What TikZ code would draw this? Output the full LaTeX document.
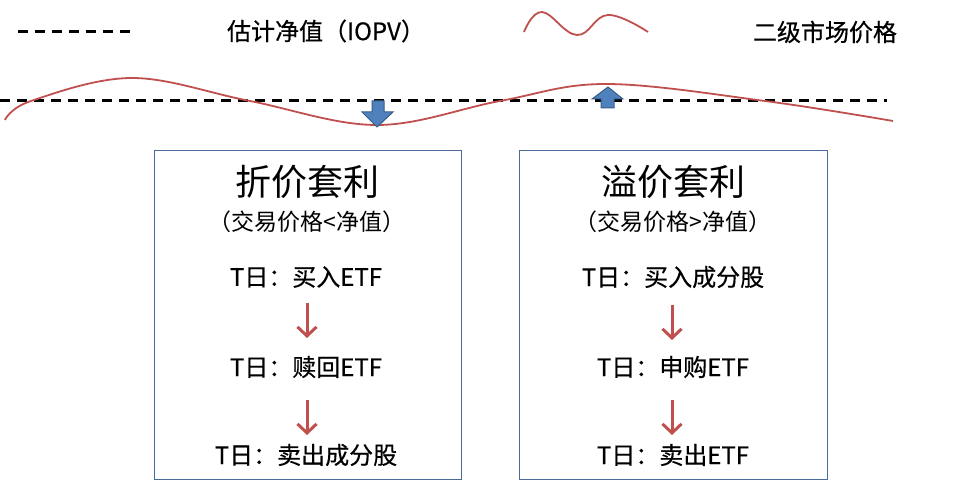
\documentclass[tikz,border=0pt]{standalone}
\usepackage{fontspec}
\setmainfont{Noto Sans CJK SC}
\newfontfamily\medfont{Noto Sans CJK SC}[FakeBold=0.5]
\usetikzlibrary{arrows.meta}
\definecolor{wavered}{HTML}{C0504D}
\definecolor{arrowblue}{HTML}{4F81BD}
\definecolor{arrowedge}{HTML}{385D8A}
\definecolor{boxedge}{HTML}{4A6A9B}
\tikzset{
  legendtext/.style={font=\medfont\fontsize{24}{28}\selectfont, inner sep=0pt, anchor=center},
  titletext/.style={font=\fontsize{36}{40}\selectfont, inner sep=0pt},
  subtext/.style={font=\fontsize{23}{26}\selectfont, inner sep=0pt},
  steptext/.style={font=\medfont\fontsize{24}{28}\selectfont, inner sep=0pt},
  panel/.style={draw=boxedge, line width=1pt},
  wave/.style={draw=wavered, line width=1.8pt},
  navline/.style={draw=black, line width=3pt, dash pattern=on 10pt off 7pt},
  flowarrow/.style={draw=wavered, line width=3pt, -{Straight Barb[length=9pt,width=19pt,line width=3pt]}},
  bluearrow/.style={fill=arrowblue, draw=arrowedge, line width=1pt, line join=miter}
}
\begin{document}
\begin{tikzpicture}[x=1pt,y=-1pt]
\useasboundingbox (0,0) rectangle (980,486);
% legend
\coordinate (ld1) at (18,32);
\coordinate (ld2) at (130,32);
\draw[navline] (ld1) -- (ld2);
\node[legendtext] (lnav) at (326,31) {估计净值（IOPV）};
\draw[wave] plot[smooth, tension=0.7] coordinates {(524,32) (542,12) (577,35) (608,15) (648,32)};
\node[legendtext] (lmkt) at (825,32) {二级市场价格};
% main lines
\coordinate (md1) at (0,101);
\coordinate (md2) at (887,101);
\draw[navline] (md1) -- (md2);
\draw[wave] plot[smooth, tension=0.6] coordinates {(5,120) (31,101) (132,78) (250,101) (377,125) (500,101) (606,84) (765,101) (893,121)};
% blue arrows
\draw[bluearrow] (372,101) -- (384,101) -- (384,112) -- (393,112) -- (377,127) -- (362,112) -- (372,112) -- cycle;
\draw[bluearrow] (601,108) -- (614,108) -- (614,99) -- (623,99) -- (608,87) -- (592,99) -- (601,99) -- cycle;
% left panel
\draw[panel] (154,151) rectangle (461,479);
\node[titletext] (lt) at (307,182) {折价套利};
\node[subtext] (ls) at (307,222) {（交易价格<净值）};
\node[steptext] (l1) at (306,277) {T日：买入ETF};
\node[steptext] (l2) at (306,367) {T日：赎回ETF};
\node[steptext] (l3) at (306,455) {T日：卖出成分股};
\coordinate (la1s) at (307,303);
\coordinate (la1e) at (307,338);
\coordinate (la2s) at (307,400);
\coordinate (la2e) at (307,435);
\draw[flowarrow] (la1s) -- (la1e);
\draw[flowarrow] (la2s) -- (la2e);
% right panel
\draw[panel] (519,151) rectangle (827,479);
\node[titletext] (rt) at (673,182) {溢价套利};
\node[subtext] (rs) at (673,222) {（交易价格>净值）};
\node[steptext] (r1) at (673,277) {T日：买入成分股};
\node[steptext] (r2) at (673,367) {T日：申购ETF};
\node[steptext] (r3) at (673,455) {T日：卖出ETF};
\coordinate (ra1s) at (672,305);
\coordinate (ra1e) at (672,340);
\coordinate (ra2s) at (672,400);
\coordinate (ra2e) at (672,435);
\draw[flowarrow] (ra1s) -- (ra1e);
\draw[flowarrow] (ra2s) -- (ra2e);
\end{tikzpicture}
\end{document}
